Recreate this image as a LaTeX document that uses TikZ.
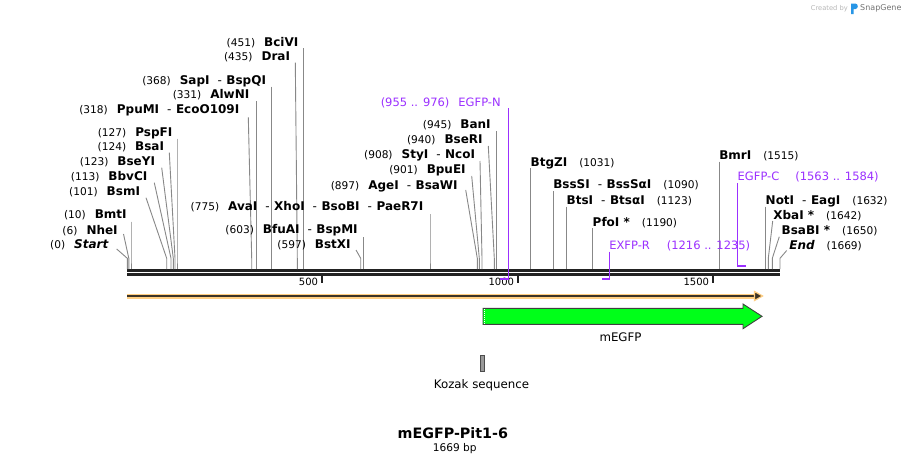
\documentclass[tikz,border=0pt]{standalone}
\usepackage{fontspec}
\setmainfont{DejaVu Sans}
\definecolor{connc}{RGB}{136,136,136}
\definecolor{primc}{RGB}{155,48,255}
\definecolor{mapc}{RGB}{34,34,34}
\definecolor{orngc}{RGB}{255,206,130}
\definecolor{orngd}{RGB}{60,52,40}
\definecolor{grnc}{RGB}{0,255,25}
\definecolor{sgblue}{RGB}{40,150,230}
\newcommand{\nm}[1]{{\fontsize{12}{14}\selectfont\bfseries #1}}
\newcommand{\nb}[1]{{\fontsize{10.6}{12}\selectfont\mdseries #1}}
\newcommand{\LT}[2]{\nb{(#1)}\hspace{9pt}\nm{#2}}
\newcommand{\RT}[2]{\nm{#1}\hspace{12pt}\nb{(#2)}}
\newcommand{\dsh}{\hspace{8pt}{\mdseries-}\hspace{4.5pt}}
\tikzset{
  lbl/.style={inner sep=0pt, outer sep=0pt},
  connline/.style={draw=connc, line width=0.9pt},
  primline/.style={draw=primc, line width=1.3pt},
  primbar/.style={draw=primc, line width=2.6pt},
  primtxt/.style={inner sep=0pt, outer sep=0pt, text=primc, font=\fontsize{11.5}{13}\selectfont},
  mapline/.style={draw=mapc, line width=3pt},
  tickline/.style={draw=mapc, line width=2pt},
  ticktxt/.style={inner sep=0pt, outer sep=0pt, anchor=base east, font=\fontsize{10}{12}\selectfont},
  feattxt/.style={inner sep=0pt, outer sep=0pt, anchor=base, font=\fontsize{11.8}{14}\selectfont},
}
\newcommand{\Lsite}[7]{\node[lbl,anchor=base east] (#1) at (#3,#4) {#2};
  \draw[connline] (#5,#6) -- (#7,258.3) -- (#7,269);}
\newcommand{\Rsite}[7]{\node[lbl,anchor=base west] (#1) at (#3,#4) {#2};
  \draw[connline] (#5,#6) -- (#7,258.3) -- (#7,269);}
\begin{document}
\begin{tikzpicture}[x=1pt,y=-1pt]
\useasboundingbox[fill=white] (0,0) rectangle (908,466);
% created by
\node[inner sep=0pt, anchor=base west, text=black!28, font=\fontsize{6.7}{8}\selectfont] (cr) at (810.7,10.5) {Created by};
\fill[sgblue] (851,3.5) -- (855.5,3.5) .. controls (858.5,3.5) and (858.5,9) .. (855.5,9) -- (853.5,9) -- (853.5,14) -- (851,14) -- cycle;
\node[inner sep=0pt, anchor=base west, text=black!55, font=\fontsize{8}{9}\selectfont] (sg) at (860,10.5) {SnapGene};
% map
\draw[mapline] (127,270.3) coordinate (m0) -- (780,270.3) coordinate (m1);
\draw[mapline] (127,274.6) -- (780,274.6);
\draw[tickline] (321.8,276) -- (321.8,283);
\draw[tickline] (517.6,276) -- (517.6,283);
\draw[tickline] (712.5,276) -- (712.5,283);
\node[ticktxt] (t500) at (318,285.5) {500};
\node[ticktxt] (t1000) at (514,285.5) {1000};
\node[ticktxt] (t1500) at (709,285.5) {1500};
% left sites
\Lsite{bcivi}{\LT{451}{BciVI}}{298.3}{46}{303.3}{48.3}{303.3}
\Lsite{drai}{\LT{435}{DraI}}{290}{60.7}{295.3}{62.7}{297.3}
\Lsite{sapi}{\LT{368}{SapI\dsh BspQI}}{266}{84}{271.3}{86.7}{271.3}
\Lsite{alwni}{\LT{331}{AlwNI}}{249.3}{98.3}{256.7}{101}{256.7}
\Lsite{ppumi}{\LT{318}{PpuMI\dsh EcoO109I}}{239.3}{113.3}{248.3}{117.3}{251.7}
\Lsite{pspfi}{\LT{127}{PspFI}}{172.3}{136}{177}{138.5}{177}
\Lsite{bsai}{\LT{124}{BsaI}}{164}{150.7}{169.3}{152.7}{175}
\Lsite{bseyi}{\LT{123}{BseYI}}{155}{165}{161.7}{167.7}{173.3}
\Lsite{bbvci}{\LT{113}{BbvCI}}{147.3}{180.7}{154.3}{182.7}{171}
\Lsite{bsmi}{\LT{101}{BsmI}}{140}{195.7}{146}{197.7}{166.7}
\Lsite{bmti}{\LT{10}{BmtI}}{126.7}{218.3}{131}{221.5}{131}
\Lsite{nhei}{\LT{6}{NheI}}{117.7}{234}{123.5}{234}{128.8}
\Lsite{start}{\LT{0}{\itshape Start}}{108.3}{248.3}{116.7}{249}{127.3}
% middle sites
\Lsite{avai}{\LT{775}{AvaI\dsh XhoI\dsh BsoBI\dsh PaeR7I}}{423.3}{210.7}{430}{214}{430}
\Lsite{bfuai}{\LT{603}{BfuAI\dsh BspMI}}{357.7}{233.3}{363.3}{237}{363.3}
\Lsite{bstxi}{\LT{597}{BstXI}}{350.7}{248.3}{356}{250}{360.7}
\Lsite{agei}{\LT{897}{AgeI\dsh BsaWI}}{457.7}{189}{465.7}{190}{477.3}
\Lsite{bpuei}{\LT{901}{BpuEI}}{465.7}{173.3}{471.7}{176}{479.3}
\Lsite{styi}{\LT{908}{StyI\dsh NcoI}}{475}{158.3}{480}{161}{482}
\Lsite{bseri}{\LT{940}{BseRI}}{482.7}{143.3}{488.3}{146}{494.3}
\Lsite{bani}{\LT{945}{BanI}}{490.7}{128.3}{496.7}{131}{496.7}
% right sites
\Rsite{btgzi}{\RT{BtgZI}{1031}}{530.7}{166}{530.7}{168.3}{530.7}
\Rsite{bsssi}{\RT{BssSI\dsh BssSαI}{1090}}{553.3}{188.3}{553.3}{191}{553.3}
\Rsite{btsi}{\RT{BtsI\dsh BtsαI}{1123}}{566.7}{204}{566.7}{206.7}{566.7}
\Rsite{pfoi}{\RT{PfoI *}{1190}}{592.7}{226}{592.7}{228.3}{592.7}
\Rsite{bmri}{\RT{BmrI}{1515}}{719.3}{159}{719.3}{161.7}{719.3}
\Rsite{noti}{\RT{NotI\dsh EagI}{1632}}{765.7}{204}{765.7}{206.7}{765.7}
\Rsite{xbai}{\RT{XbaI *}{1642}}{773.3}{219}{772.7}{221}{768.3}
\Rsite{bsabi}{\RT{BsaBI *}{1650}}{781.7}{234}{779.3}{236.7}{772.3}
\Rsite{end}{\RT{\itshape End}{1669}}{789.3}{249}{786.7}{250.5}{780}
% primers
\node[primtxt, anchor=base east] (egfpn) at (500.7,106) {(955 .. 976)\hspace{9pt}EGFP-N};
\draw[primline] (508.3,108) -- (508.3,279);
\draw[primbar] (500,279) -- (509,279);
\node[primtxt, anchor=base west] (exfpr) at (609.3,249.3) {EXFP-R\hspace{17pt}(1216 .. 1235)};
\draw[primline] (609.3,251.7) -- (609.3,279);
\draw[primbar] (602,279) -- (610,279);
\node[primtxt, anchor=base west] (egfpc) at (737.7,180.7) {EGFP-C\hspace{16pt}(1563 .. 1584)};
\draw[primline] (737.7,183) -- (737.7,266);
\draw[primbar] (737,266) -- (745.5,266);
% orange ORF arrow
\draw[draw=orngc, line width=5pt] (127,296) -- (757,296);
\draw[draw=orngd, line width=2pt] (127,296) -- (756,296);
\filldraw[fill=orngd, draw=orngc, line width=1.2pt, line join=miter] (754.5,291.5) -- (762.5,296) -- (754.5,300.5) -- cycle;
% green feature
\draw[fill=grnc, draw=black!75, line width=0.9pt] (483,308.3) -- (743,308.3) -- (743,304) -- (762,316.3) -- (743,328.7) -- (743,324.3) -- (483,324.3) -- cycle;
\draw[draw=white, line width=1pt, dash pattern=on 1pt off 1pt] (484.6,309) -- (484.6,323.6);
\node[feattxt] (megfp) at (620.5,341) {mEGFP};
% Kozak
\draw[fill=black!40, draw=black!70, line width=0.8pt] (480,355) rectangle (484.5,371);
\node[feattxt] (kozak) at (481.5,388.5) {Kozak sequence};
% title
\node[inner sep=0pt, anchor=base, font=\fontsize{14.3}{16}\selectfont\bfseries] (title) at (452.8,438.3) {mEGFP-Pit1-6};
\node[inner sep=0pt, anchor=base, font=\fontsize{10.6}{12}\selectfont] (bp) at (454.7,451.5) {1669 bp};
\end{tikzpicture}
\end{document}
